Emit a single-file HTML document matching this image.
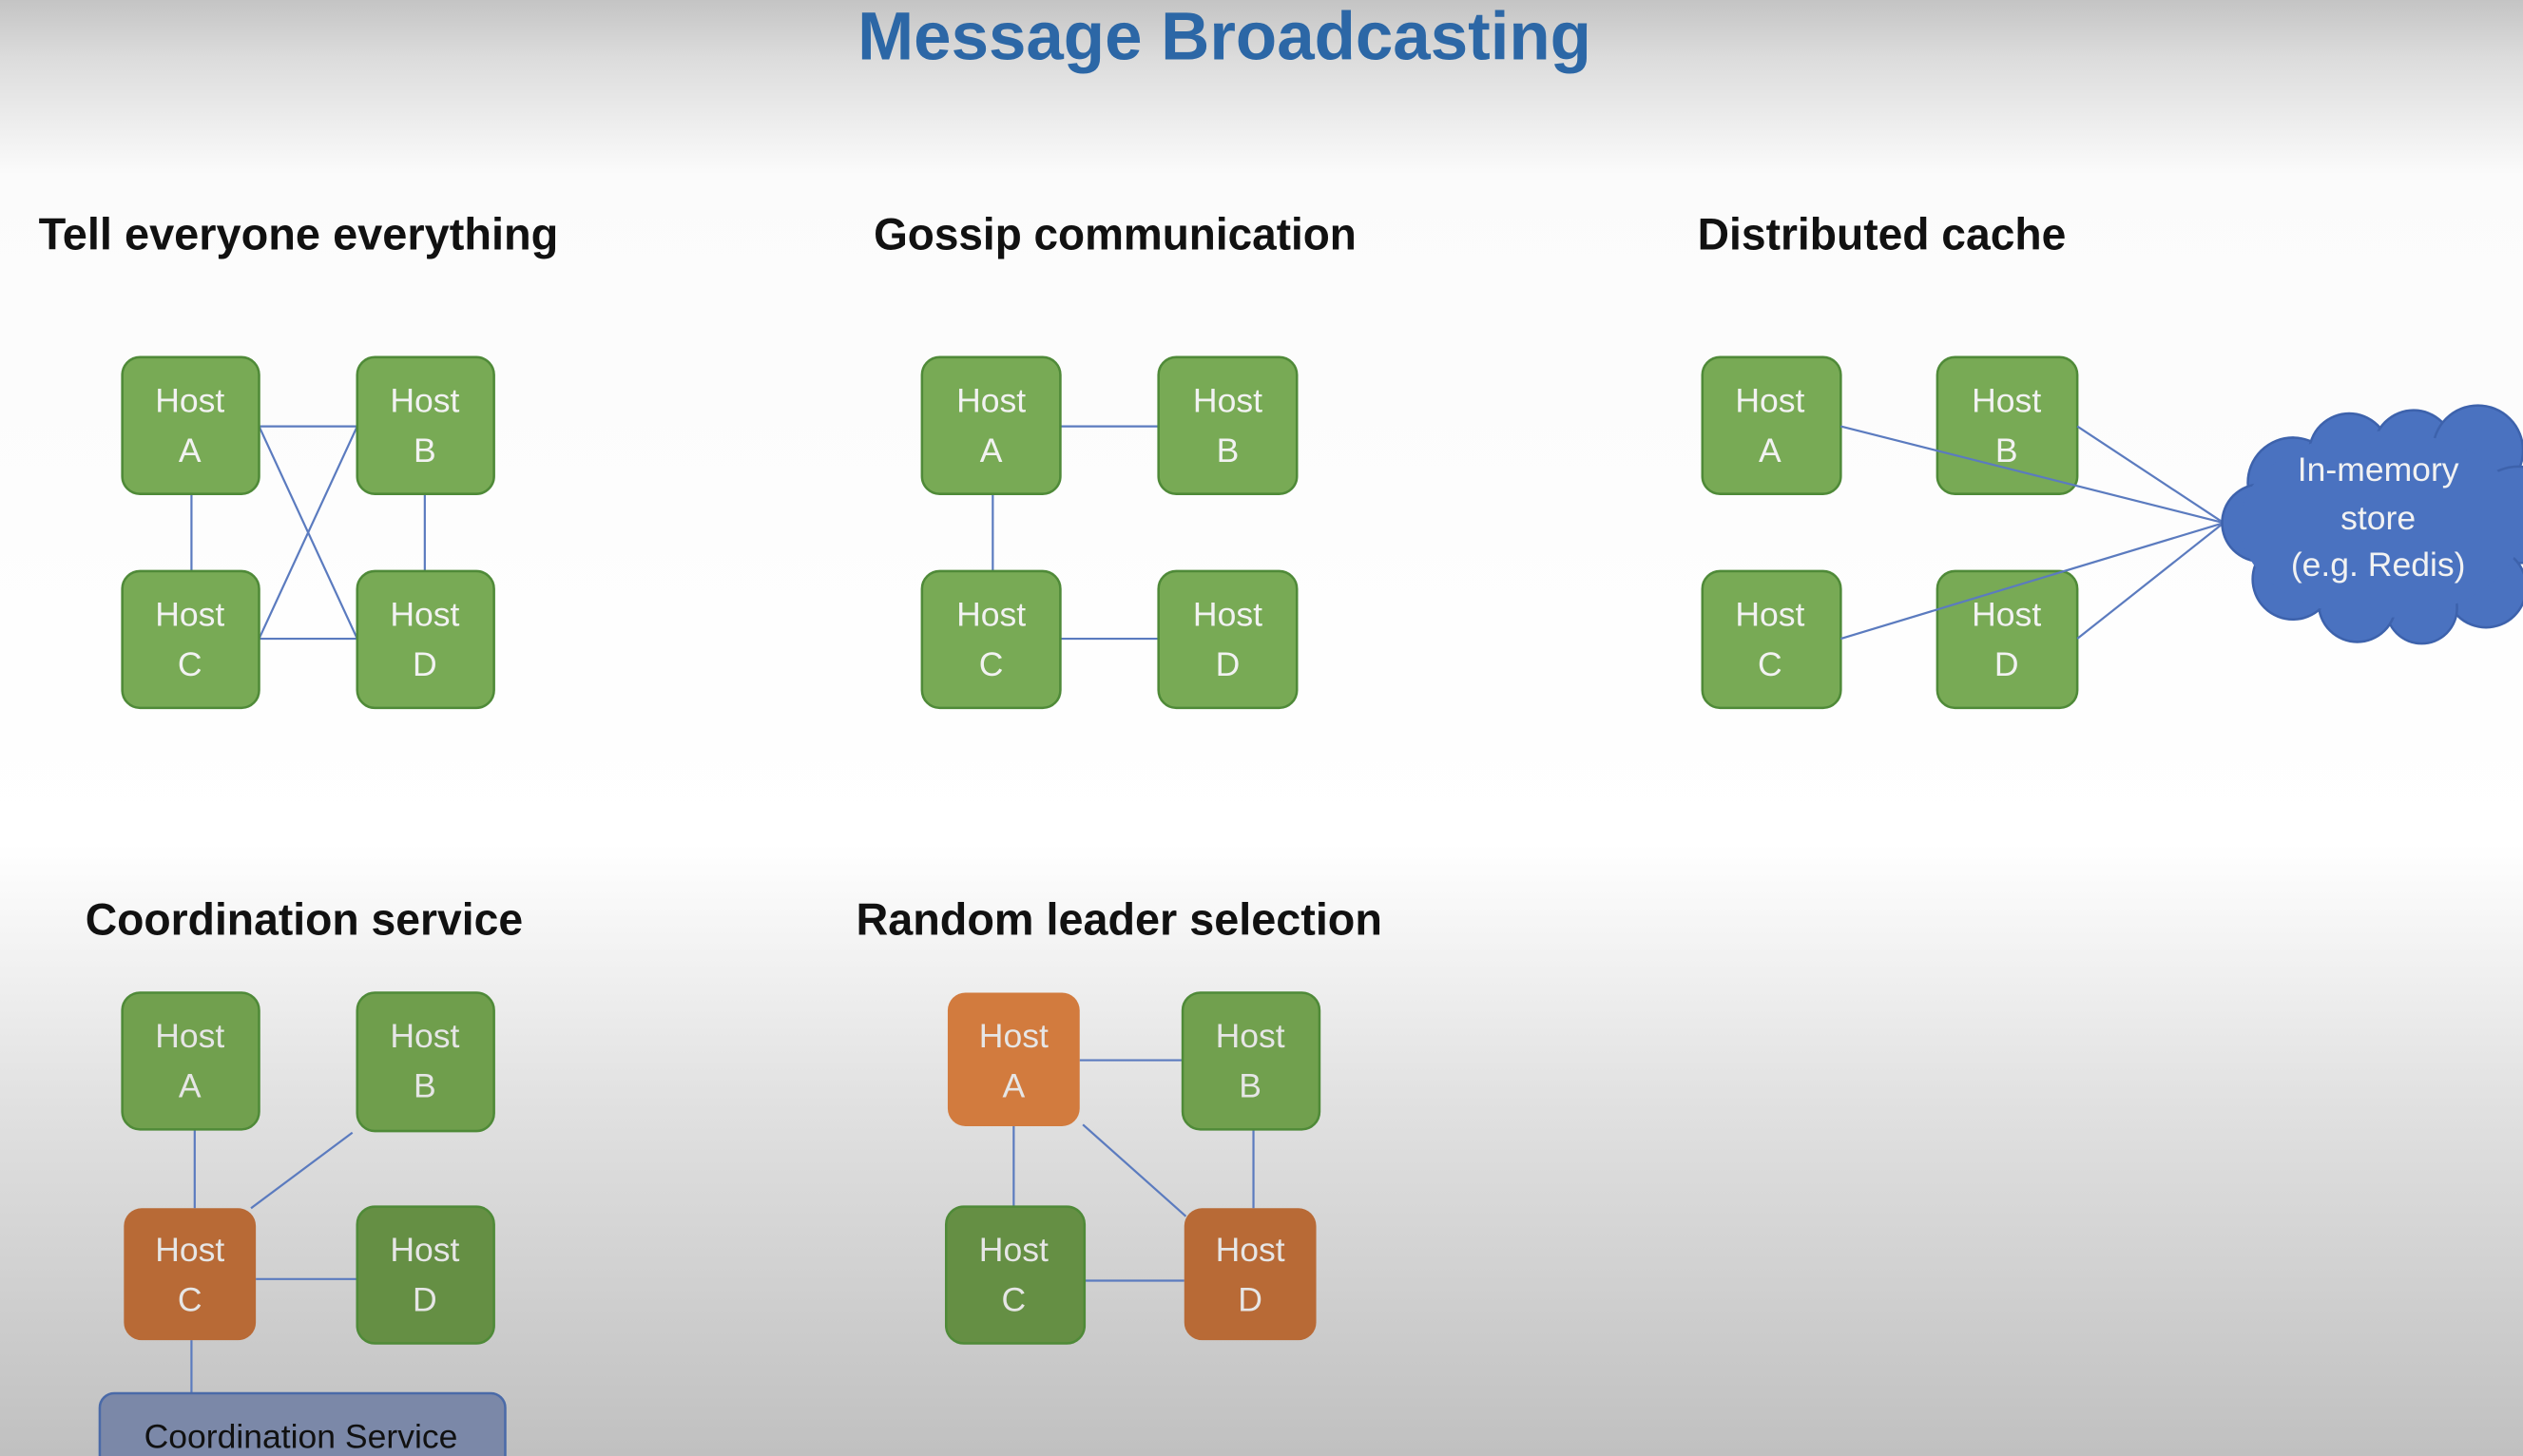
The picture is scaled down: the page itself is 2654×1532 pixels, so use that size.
<!DOCTYPE html>
<html><head><meta charset="utf-8"><style>
html,body{margin:0;padding:0;width:2654px;height:1532px;overflow:hidden}
svg{display:block}
text{font-family:"Liberation Sans",sans-serif}
</style></head><body>
<svg width="2654" height="1532" viewBox="0 0 1568 905" preserveAspectRatio="none" xmlns="http://www.w3.org/2000/svg">
<defs>
<linearGradient id="bg" x1="0" y1="0" x2="0" y2="1">
<stop offset="0" stop-color="#c4c4c4"/>
<stop offset="0.04" stop-color="#dcdcdc"/>
<stop offset="0.12" stop-color="#fbfbfb"/>
<stop offset="0.58" stop-color="#ffffff"/>
<stop offset="0.75" stop-color="#e2e2e2"/>
<stop offset="1" stop-color="#c0c0c0"/>
</linearGradient>
</defs>
<rect width="1568" height="905" fill="url(#bg)"/>
<text x="761" y="37" text-anchor="middle" font-size="42" font-weight="bold" fill="#2c67a6" textLength="456" lengthAdjust="spacingAndGlyphs">Message Broadcasting</text>
<g font-size="28" font-weight="bold" fill="#111">
<text x="24" y="155" textLength="323" lengthAdjust="spacingAndGlyphs">Tell everyone everything</text>
<text x="543" y="155" textLength="300" lengthAdjust="spacingAndGlyphs">Gossip communication</text>
<text x="1055" y="155" textLength="229" lengthAdjust="spacingAndGlyphs">Distributed cache</text>
<text x="53" y="581" textLength="272" lengthAdjust="spacingAndGlyphs">Coordination service</text>
<text x="532" y="581" textLength="327" lengthAdjust="spacingAndGlyphs">Random leader selection</text>
</g>
<g stroke="#5b7bbf" stroke-width="1.3" fill="none">
<!-- panel 1 -->
<line x1="161" y1="265" x2="222" y2="265"/><line x1="119" y1="307" x2="119" y2="355"/>
<line x1="264" y1="307" x2="264" y2="355"/><line x1="161" y1="397" x2="222" y2="397"/>
<line x1="161" y1="265" x2="222" y2="397"/><line x1="222" y1="265" x2="161" y2="397"/>
<!-- panel 2 -->
<line x1="659" y1="265" x2="720" y2="265"/><line x1="617" y1="307" x2="617" y2="355"/>
<line x1="659" y1="397" x2="720" y2="397"/>
<!-- panel 4 -->
<line x1="121" y1="702" x2="121" y2="751"/><line x1="219" y1="704" x2="156" y2="751"/>
<line x1="159" y1="795" x2="222" y2="795"/><line x1="119" y1="833" x2="119" y2="866"/>
<!-- panel 5 -->
<line x1="671" y1="659" x2="735" y2="659"/><line x1="630" y1="700" x2="630" y2="750"/>
<line x1="673" y1="699" x2="737" y2="756"/><line x1="779" y1="702" x2="779" y2="751"/>
<line x1="674" y1="796" x2="736" y2="796"/>
</g>
<g stroke="#4f8a38" stroke-width="1.5">
<g fill="#78aa55">
<rect x="76" y="222" width="85" height="85" rx="11"/><rect x="222" y="222" width="85" height="85" rx="11"/>
<rect x="76" y="355" width="85" height="85" rx="11"/><rect x="222" y="355" width="85" height="85" rx="11"/>
<rect x="573" y="222" width="86" height="85" rx="11"/><rect x="720" y="222" width="86" height="85" rx="11"/>
<rect x="573" y="355" width="86" height="85" rx="11"/><rect x="720" y="355" width="86" height="85" rx="11"/>
<rect x="1058" y="222" width="86" height="85" rx="11"/><rect x="1204" y="222" width="87" height="85" rx="11"/>
<rect x="1058" y="355" width="86" height="85" rx="11"/><rect x="1204" y="355" width="87" height="85" rx="11"/>
</g>
<rect x="76" y="617" width="85" height="85" rx="11" fill="#71a04e"/>
<rect x="222" y="617" width="85" height="86" rx="11" fill="#6f9e4c"/>
<rect x="222" y="750" width="85" height="85" rx="11" fill="#658f44"/>
<rect x="735" y="617" width="85" height="85" rx="11" fill="#71a04e"/>
<rect x="588" y="750" width="86" height="85" rx="11" fill="#658f44"/>
</g>
<rect x="77" y="751" width="82" height="82" rx="11" fill="#b86a36"/>
<rect x="589" y="617" width="82" height="83" rx="11" fill="#d27b3e"/>
<rect x="736" y="751" width="82" height="82" rx="11" fill="#b86a36"/>
<!-- Distributed cache lines over boxes -->
<g stroke="#5b7bbf" stroke-width="1.3">
<line x1="1144" y1="265" x2="1382" y2="325"/><line x1="1291" y1="265" x2="1382" y2="325"/>
<line x1="1144" y1="397" x2="1382" y2="325"/><line x1="1291" y1="397" x2="1382" y2="325"/>
</g>
<!-- cloud -->
<g fill="#4a72c0" stroke="#3d62ac" stroke-width="1.5">
<circle cx="1425" cy="300" r="28"/><circle cx="1460" cy="282" r="25"/><circle cx="1500" cy="280" r="25"/>
<circle cx="1540" cy="280" r="28"/><circle cx="1565" cy="320" r="30"/><circle cx="1545" cy="365" r="25"/>
<circle cx="1505" cy="378" r="22"/><circle cx="1465" cy="375" r="24"/><circle cx="1425" cy="360" r="25"/>
<circle cx="1405" cy="325" r="24"/>
</g>
<ellipse cx="1480" cy="326" rx="88" ry="58" fill="#4a72c0"/>
<g font-size="21" fill="#f2f2f2" text-anchor="middle">
<text x="1478" y="299">In-memory</text><text x="1478" y="329">store</text><text x="1478" y="358">(e.g. Redis)</text>
</g>
<!-- coordination service box -->
<rect x="62" y="866" width="252" height="60" rx="9" fill="#7b88a8" stroke="#4a6aa8" stroke-width="1.5"/>
<text x="187" y="900" text-anchor="middle" font-size="21" fill="#111">Coordination Service</text>
<!-- host labels -->
<g font-size="21" fill="#f2f2f2" text-anchor="middle">
<text x="118" y="256">Host</text><text x="118" y="287">A</text>
<text x="264" y="256">Host</text><text x="264" y="287">B</text>
<text x="118" y="389">Host</text><text x="118" y="420">C</text>
<text x="264" y="389">Host</text><text x="264" y="420">D</text>
<text x="616" y="256">Host</text><text x="616" y="287">A</text>
<text x="763" y="256">Host</text><text x="763" y="287">B</text>
<text x="616" y="389">Host</text><text x="616" y="420">C</text>
<text x="763" y="389">Host</text><text x="763" y="420">D</text>
<text x="1100" y="256">Host</text><text x="1100" y="287">A</text>
<text x="1247" y="256">Host</text><text x="1247" y="287">B</text>
<text x="1100" y="389">Host</text><text x="1100" y="420">C</text>
<text x="1247" y="389">Host</text><text x="1247" y="420">D</text>
</g>
<g font-size="21" fill="#e6e6e6" text-anchor="middle">
<text x="118" y="651">Host</text><text x="118" y="682">A</text>
<text x="264" y="651">Host</text><text x="264" y="682">B</text>
<text x="118" y="784">Host</text><text x="118" y="815">C</text>
<text x="264" y="784">Host</text><text x="264" y="815">D</text>
<text x="630" y="651">Host</text><text x="630" y="682">A</text>
<text x="777" y="651">Host</text><text x="777" y="682">B</text>
<text x="630" y="784">Host</text><text x="630" y="815">C</text>
<text x="777" y="784">Host</text><text x="777" y="815">D</text>
</g>
</svg>
</body></html>
